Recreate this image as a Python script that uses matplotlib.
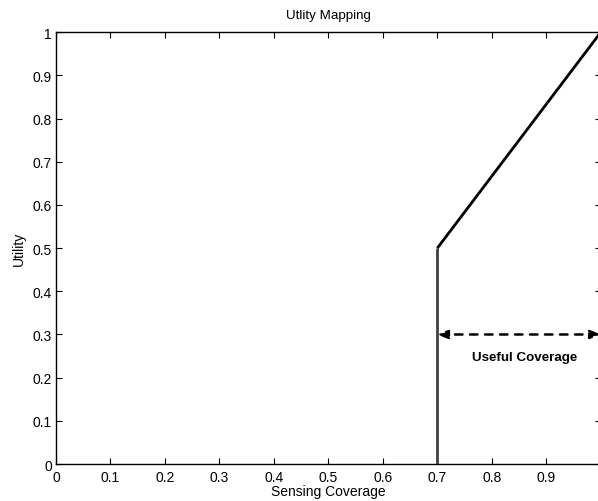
import matplotlib
matplotlib.use("Agg")
import matplotlib.pyplot as plt

# data
step_x = [0.7, 0.7]
step_y = [0.0, 0.5]
ramp_x = [0.7, 1.0]
ramp_y = [0.5, 1.0]
arrow_y = 0.3
ticks = [0, 0.1, 0.2, 0.3, 0.4, 0.5, 0.6, 0.7, 0.8, 0.9, 1]
tick_labels = ["0", "0.1", "0.2", "0.3", "0.4", "0.5", "0.6", "0.7", "0.8", "0.9", "1"]

plt.rcParams["font.family"] = ["Liberation Sans", "DejaVu Sans"]
plt.rcParams["font.size"] = 10

fig = plt.figure(figsize=(5.98, 5.02), dpi=100)
ax = fig.add_axes([0.0936, 0.0737, 0.911, 0.86])

ax.plot(step_x, step_y, color="#404040", lw=2, solid_capstyle="butt")
ax.plot(ramp_x, ramp_y, color="black", lw=2, solid_capstyle="butt")

ax.annotate("", xy=(ramp_x[0], arrow_y), xytext=(ramp_x[1], arrow_y),
            arrowprops=dict(arrowstyle="<|-|>,head_length=0.6,head_width=0.25",
                            color="black", lw=1.8, linestyle=(0, (3, 3)),
                            shrinkA=0, shrinkB=0))
ax.text(0.861, 0.248, "Useful Coverage", ha="center", va="center",
        fontweight="bold", fontsize=9.6)

ax.set_xlim(0, 1)
ax.set_ylim(0, 1)
ax.set_xticks(ticks)
ax.set_xticklabels(tick_labels[:-1] + [""])
ax.set_yticks(ticks)
ax.set_yticklabels(tick_labels)
ax.tick_params(direction="in", top=True, right=True, length=4, width=0.8)
ax.tick_params(axis="x", pad=4.5)
ax.tick_params(axis="y", pad=3)
for s in ax.spines.values():
    s.set_linewidth(1.0)

ax.set_title("Utlity Mapping", fontsize=9.6, pad=10)
ax.set_xlabel("Sensing Coverage", labelpad=0)
ax.set_ylabel("Utility", labelpad=5)

fig.savefig("out.png", dpi=100)
